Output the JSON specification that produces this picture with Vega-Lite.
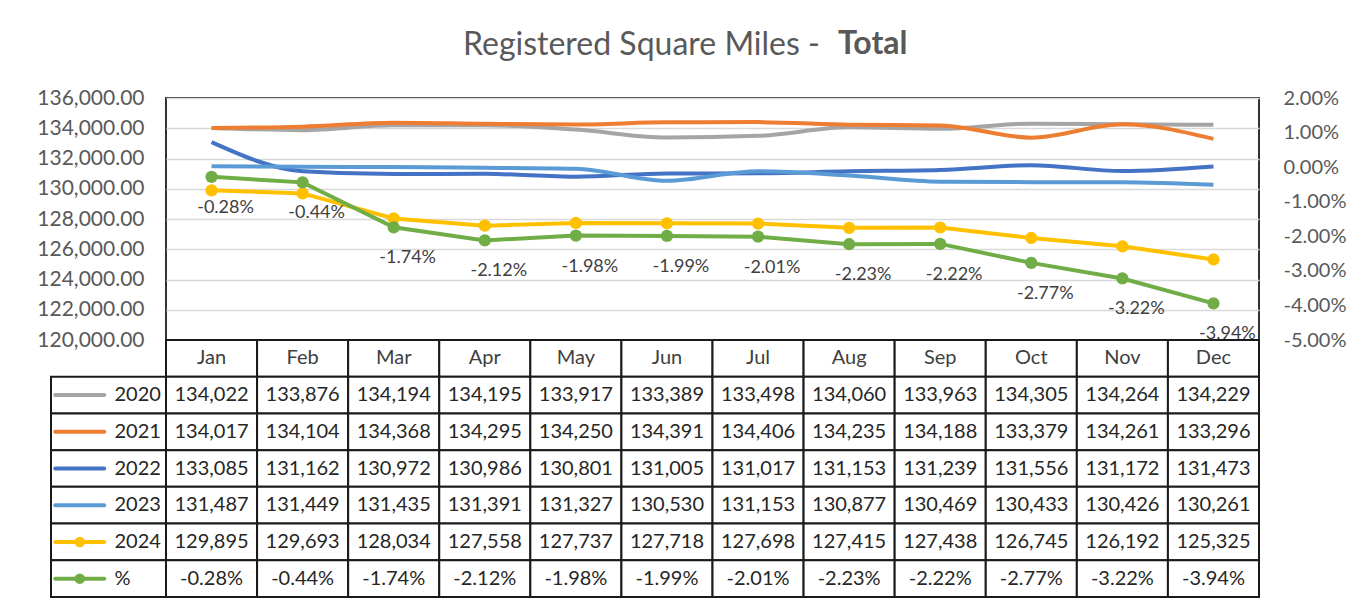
{
  "$schema": "https://vega.github.io/schema/vega-lite/v6.json",
  "autosize": {"type": "pad"},
  "padding": {"left": 35, "top": 27, "right": 5, "bottom": 5},
  "background": "white",
  "config": {
    "font": "Lato",
    "locale": {"number": {"decimal": ".", "thousands": ",", "grouping": [3], "currency": ["$", ""], "minus": "-"}},
    "view": {"stroke": "#333333", "strokeWidth": 2}
  },
  "datasets": {
    "months": [{"m": "Jan"}, {"m": "Feb"}, {"m": "Mar"}, {"m": "Apr"}, {"m": "May"}, {"m": "Jun"}, {"m": "Jul"}, {"m": "Aug"}, {"m": "Sep"}, {"m": "Oct"}, {"m": "Nov"}, {"m": "Dec"}],
    "rows": [{"s": "2020"}, {"s": "2021"}, {"s": "2022"}, {"s": "2023"}, {"s": "2024"}, {"s": "%"}],
    "vals": [
      {"m": "Jan", "s": "2020", "v": 134022}, {"m": "Feb", "s": "2020", "v": 133876}, {"m": "Mar", "s": "2020", "v": 134194}, {"m": "Apr", "s": "2020", "v": 134195}, {"m": "May", "s": "2020", "v": 133917}, {"m": "Jun", "s": "2020", "v": 133389}, {"m": "Jul", "s": "2020", "v": 133498}, {"m": "Aug", "s": "2020", "v": 134060}, {"m": "Sep", "s": "2020", "v": 133963}, {"m": "Oct", "s": "2020", "v": 134305}, {"m": "Nov", "s": "2020", "v": 134264}, {"m": "Dec", "s": "2020", "v": 134229},
      {"m": "Jan", "s": "2021", "v": 134017}, {"m": "Feb", "s": "2021", "v": 134104}, {"m": "Mar", "s": "2021", "v": 134368}, {"m": "Apr", "s": "2021", "v": 134295}, {"m": "May", "s": "2021", "v": 134250}, {"m": "Jun", "s": "2021", "v": 134391}, {"m": "Jul", "s": "2021", "v": 134406}, {"m": "Aug", "s": "2021", "v": 134235}, {"m": "Sep", "s": "2021", "v": 134188}, {"m": "Oct", "s": "2021", "v": 133379}, {"m": "Nov", "s": "2021", "v": 134261}, {"m": "Dec", "s": "2021", "v": 133296},
      {"m": "Jan", "s": "2022", "v": 133085}, {"m": "Feb", "s": "2022", "v": 131162}, {"m": "Mar", "s": "2022", "v": 130972}, {"m": "Apr", "s": "2022", "v": 130986}, {"m": "May", "s": "2022", "v": 130801}, {"m": "Jun", "s": "2022", "v": 131005}, {"m": "Jul", "s": "2022", "v": 131017}, {"m": "Aug", "s": "2022", "v": 131153}, {"m": "Sep", "s": "2022", "v": 131239}, {"m": "Oct", "s": "2022", "v": 131556}, {"m": "Nov", "s": "2022", "v": 131172}, {"m": "Dec", "s": "2022", "v": 131473},
      {"m": "Jan", "s": "2023", "v": 131487}, {"m": "Feb", "s": "2023", "v": 131449}, {"m": "Mar", "s": "2023", "v": 131435}, {"m": "Apr", "s": "2023", "v": 131391}, {"m": "May", "s": "2023", "v": 131327}, {"m": "Jun", "s": "2023", "v": 130530}, {"m": "Jul", "s": "2023", "v": 131153}, {"m": "Aug", "s": "2023", "v": 130877}, {"m": "Sep", "s": "2023", "v": 130469}, {"m": "Oct", "s": "2023", "v": 130433}, {"m": "Nov", "s": "2023", "v": 130426}, {"m": "Dec", "s": "2023", "v": 130261},
      {"m": "Jan", "s": "2024", "v": 129895}, {"m": "Feb", "s": "2024", "v": 129693}, {"m": "Mar", "s": "2024", "v": 128034}, {"m": "Apr", "s": "2024", "v": 127558}, {"m": "May", "s": "2024", "v": 127737}, {"m": "Jun", "s": "2024", "v": 127718}, {"m": "Jul", "s": "2024", "v": 127698}, {"m": "Aug", "s": "2024", "v": 127415}, {"m": "Sep", "s": "2024", "v": 127438}, {"m": "Oct", "s": "2024", "v": 126745}, {"m": "Nov", "s": "2024", "v": 126192}, {"m": "Dec", "s": "2024", "v": 125325}
    ],
    "pct": [
      {"m": "Jan", "s": "%", "p": -0.0028}, {"m": "Feb", "s": "%", "p": -0.0044}, {"m": "Mar", "s": "%", "p": -0.0174}, {"m": "Apr", "s": "%", "p": -0.0212}, {"m": "May", "s": "%", "p": -0.0198}, {"m": "Jun", "s": "%", "p": -0.0199}, {"m": "Jul", "s": "%", "p": -0.0201}, {"m": "Aug", "s": "%", "p": -0.0223}, {"m": "Sep", "s": "%", "p": -0.0222}, {"m": "Oct", "s": "%", "p": -0.0277}, {"m": "Nov", "s": "%", "p": -0.0322}, {"m": "Dec", "s": "%", "p": -0.0394}
    ]
  },
  "columns": 2,
  "spacing": 0,
  "bounds": "flush",
  "concat": [
    {
      "width": 115,
      "height": 242,
      "view": {"stroke": null},
      "title": {"text": "Registered Square Miles -", "anchor": "start", "frame": "group", "dx": 412, "offset": 11, "baseline": "alphabetic", "fontSize": 32, "fontWeight": "normal", "color": "#595959", "limit": 2000},
      "data": {"values": []},
      "mark": {"type": "point", "opacity": 0}
    },
    {
      "width": 1093,
      "height": 242,
      "title": {"text": "Total", "anchor": "start", "frame": "group", "dx": 672, "offset": 1, "baseline": "alphabetic", "fontSize": 32, "fontWeight": "bold", "color": "#595959", "limit": 2000},
      "layer": [
        {
          "data": {"name": "vals"},
          "encoding": {
            "x": {"field": "m", "type": "ordinal", "sort": ["Jan","Feb","Mar","Apr","May","Jun","Jul","Aug","Sep","Oct","Nov","Dec"], "scale": {"type": "point", "padding": 0.5, "domain": ["Jan","Feb","Mar","Apr","May","Jun","Jul","Aug","Sep","Oct","Nov","Dec"]}, "axis": null},
            "y": {"field": "v", "type": "quantitative", "scale": {"domain": [120000, 136000], "nice": false, "zero": false},
              "axis": {"values": [120000,122000,124000,126000,128000,130000,132000,134000,136000], "format": ",.2f", "grid": true, "gridColor": "#d9d9d9", "gridWidth": 1.5, "domain": false, "ticks": false, "labelPadding": 22, "labelFontSize": 21, "labelColor": "#595959", "labelOverlap": false, "labelBound": false, "title": null}},
            "color": {"field": "s", "type": "nominal", "scale": {"domain": ["2020","2021","2022","2023","2024","%"], "range": ["#a5a5a5","#ed7d31","#4472c4","#5b9bd5","#ffc000","#70ad47"]}, "legend": null}
          },
          "layer": [
            {"transform": [{"filter": "datum.s != '2024'"}], "mark": {"type": "line", "strokeWidth": 4, "interpolate": "monotone"}},
            {"transform": [{"filter": "datum.s == '2024'"}], "mark": {"type": "line", "strokeWidth": 4}},
            {"transform": [{"filter": "datum.s == '2024'"}], "mark": {"type": "circle", "size": 150, "opacity": 1}}
          ]
        },
        {
          "data": {"name": "pct"},
          "encoding": {
            "x": {"field": "m", "type": "ordinal", "sort": ["Jan","Feb","Mar","Apr","May","Jun","Jul","Aug","Sep","Oct","Nov","Dec"], "scale": {"type": "point", "padding": 0.5, "domain": ["Jan","Feb","Mar","Apr","May","Jun","Jul","Aug","Sep","Oct","Nov","Dec"]}, "axis": null},
            "y": {"field": "p", "type": "quantitative", "scale": {"domain": [-0.05, 0.02], "nice": false, "zero": false},
              "axis": {"orient": "right", "values": [-0.05,-0.04,-0.03,-0.02,-0.01,0,0.01,0.02], "format": ".2%", "grid": false, "domain": false, "ticks": false, "labelPadding": 24, "labelFontSize": 20, "labelColor": "#595959", "labelOverlap": false, "labelBound": false, "title": null}}
          },
          "layer": [
            {"mark": {"type": "line", "strokeWidth": 4, "color": "#70ad47"}},
            {"mark": {"type": "circle", "size": 150, "opacity": 1, "color": "#70ad47"}},
            {"mark": {"type": "text", "dx": 14, "dy": 31, "fontSize": 18, "color": "#404040"}, "encoding": {"text": {"field": "p", "type": "quantitative", "format": ".2%"}}}
          ]
        }
      ],
      "resolve": {"scale": {"y": "independent"}}
    },
    {
      "width": 115,
      "height": 257,
      "view": {"stroke": null},
      "data": {"name": "rows"},
      "encoding": {
        "y": {"field": "s", "type": "nominal", "scale": {"domain": ["hdr","2020","2021","2022","2023","2024","%"], "paddingInner": 0, "paddingOuter": 0}, "axis": null}
      },
      "layer": [
        {"mark": {"type": "rect", "fill": "white", "stroke": "#1a1a1a", "strokeWidth": 2}},
        {"mark": {"type": "tick", "orient": "horizontal", "size": 53, "thickness": 4, "cornerRadius": 2, "opacity": 1},
         "encoding": {
           "x": {"datum": "sym", "type": "nominal", "scale": {"domain": ["sym","name"], "paddingInner": 0, "paddingOuter": 0}, "axis": null},
           "color": {"field": "s", "type": "nominal", "scale": {"domain": ["2020","2021","2022","2023","2024","%"], "range": ["#a5a5a5","#ed7d31","#4472c4","#5b9bd5","#ffc000","#70ad47"]}, "legend": null}}},
        {"transform": [{"filter": "datum.s == '2024' || datum.s == '%'"}],
         "mark": {"type": "circle", "size": 110, "opacity": 1},
         "encoding": {
           "x": {"datum": "sym", "type": "nominal", "scale": {"domain": ["sym","name"], "paddingInner": 0, "paddingOuter": 0}, "axis": null},
           "color": {"field": "s", "type": "nominal", "scale": {"domain": ["2020","2021","2022","2023","2024","%"], "range": ["#a5a5a5","#ed7d31","#4472c4","#5b9bd5","#ffc000","#70ad47"]}, "legend": null}}},
        {"mark": {"type": "text", "align": "left", "dx": 6, "fontSize": 20, "color": "#262626"},
         "encoding": {
           "x": {"datum": "name", "type": "nominal", "bandPosition": 0, "scale": {"domain": ["sym","name"], "paddingInner": 0, "paddingOuter": 0}, "axis": null},
           "text": {"field": "s", "type": "nominal"}}}
      ]
    },
    {
      "width": 1093,
      "height": 257,
      "view": {"stroke": null},
      "layer": [
        {
          "data": {"name": "months"},
          "encoding": {
            "x": {"field": "m", "type": "nominal", "scale": {"domain": ["Jan","Feb","Mar","Apr","May","Jun","Jul","Aug","Sep","Oct","Nov","Dec"], "paddingInner": 0, "paddingOuter": 0}, "axis": null},
            "y": {"datum": "hdr", "type": "nominal", "scale": {"domain": ["hdr","2020","2021","2022","2023","2024","%"], "paddingInner": 0, "paddingOuter": 0}, "axis": null}
          },
          "layer": [
            {"mark": {"type": "rect", "fill": "white", "stroke": "#1a1a1a", "strokeWidth": 2}},
            {"mark": {"type": "text", "fontSize": 20, "color": "#404040"}, "encoding": {"text": {"field": "m", "type": "nominal"}}}
          ]
        },
        {
          "data": {"name": "vals"},
          "encoding": {
            "x": {"field": "m", "type": "nominal", "scale": {"domain": ["Jan","Feb","Mar","Apr","May","Jun","Jul","Aug","Sep","Oct","Nov","Dec"], "paddingInner": 0, "paddingOuter": 0}, "axis": null},
            "y": {"field": "s", "type": "nominal", "scale": {"domain": ["hdr","2020","2021","2022","2023","2024","%"], "paddingInner": 0, "paddingOuter": 0}, "axis": null}
          },
          "layer": [
            {"mark": {"type": "rect", "fill": "white", "stroke": "#1a1a1a", "strokeWidth": 2}},
            {"mark": {"type": "text", "fontSize": 20, "color": "#262626"}, "encoding": {"text": {"field": "v", "type": "quantitative", "format": ","}}}
          ]
        },
        {
          "data": {"name": "pct"},
          "encoding": {
            "x": {"field": "m", "type": "nominal", "scale": {"domain": ["Jan","Feb","Mar","Apr","May","Jun","Jul","Aug","Sep","Oct","Nov","Dec"], "paddingInner": 0, "paddingOuter": 0}, "axis": null},
            "y": {"field": "s", "type": "nominal", "scale": {"domain": ["hdr","2020","2021","2022","2023","2024","%"], "paddingInner": 0, "paddingOuter": 0}, "axis": null}
          },
          "layer": [
            {"mark": {"type": "rect", "fill": "white", "stroke": "#1a1a1a", "strokeWidth": 2}},
            {"mark": {"type": "text", "fontSize": 20, "color": "#262626"}, "encoding": {"text": {"field": "p", "type": "quantitative", "format": ".2%"}}}
          ]
        }
      ]
    }
  ]
}
